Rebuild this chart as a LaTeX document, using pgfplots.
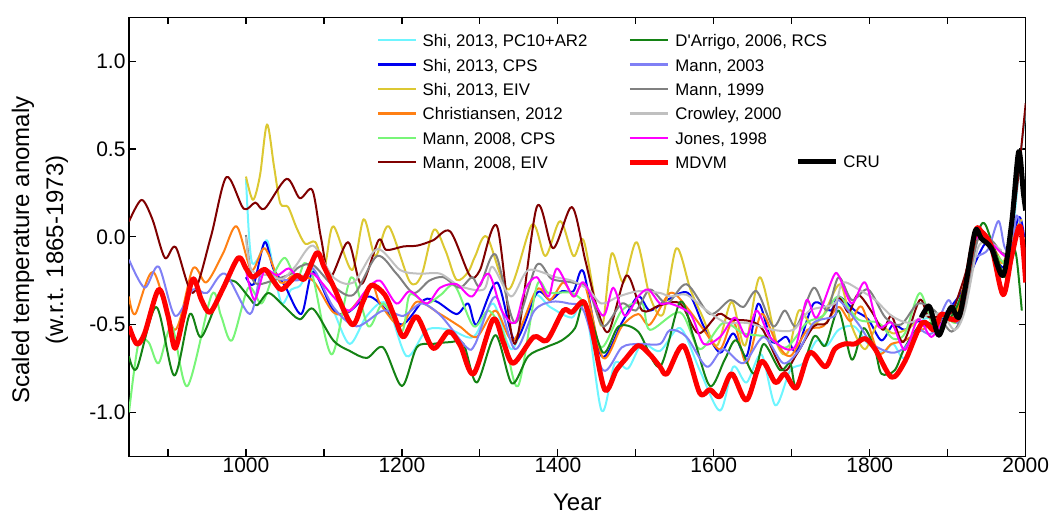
\documentclass[border=0pt]{standalone}
\usepackage{fontspec}
\setmainfont{Liberation Sans}
\usepackage{pgfplots}
\pgfplotsset{compat=1.18}
\definecolor{shiPC}{RGB}{110,245,255}
\definecolor{shiCPS}{RGB}{0,0,240}
\definecolor{shiEIV}{RGB}{220,200,50}
\definecolor{chrOrange}{RGB}{255,128,20}
\definecolor{mcps}{RGB}{120,245,120}
\definecolor{meiv}{RGB}{128,0,0}
\definecolor{darrigo}{RGB}{20,130,20}
\definecolor{mthree}{RGB}{128,128,245}
\definecolor{mnine}{RGB}{128,128,128}
\definecolor{crowley}{RGB}{192,192,192}
\definecolor{jones}{RGB}{255,0,255}
\definecolor{mdvm}{RGB}{255,0,0}
\pgfplotsset{
  base/.style={
    at={(129pt,61.7pt)}, anchor=south west,
    width=896.7pt, height=439pt, scale only axis,
    xmin=850, xmax=2000, ymin=-1.25, ymax=1.25,
    legend cell align=left,
    legend image code/.code={\draw[#1] (0pt,0pt) -- (38pt,0pt);},
  },
  lgd/.style={draw=none, fill=none, inner sep=0pt,
    font=\fontsize{16.8}{20}\selectfont,
    nodes={inner sep=2pt, text height=13pt, text depth=0pt},
    row sep=7.4pt,
    /tikz/every odd column/.append style={column sep=3pt},
    /tikz/every even column/.append style={column sep=38pt}},
}
\begin{document}
\begin{tikzpicture}[x=1pt,y=1pt]
\useasboundingbox (0,0) rectangle (1051,518);
\begin{axis}[base,
  axis line style={line width=1.2pt},
  tick style={line width=1.2pt, black},
  major tick length=7pt, minor tick length=7pt,
  tick align=inside,
  xtick={1000,1200,1400,1600,1800,2000},
  xticklabels={1000,1200,1400,1600,1800,2000},
  minor xtick={900,1100,1300,1500,1700,1900},
  ytick={-1,-0.5,0,0.5,1},
  yticklabels={-1.0,-0.5,0.0,0.5,1.0},
  ticklabel style={font=\fontsize{21}{25}\selectfont},
  xticklabel style={yshift=2pt},
  xlabel={Year},
  xlabel style={font=\fontsize{24}{28}\selectfont, at={(axis description cs:0.5,-0.106)}, anchor=center},
  ylabel={Scaled temperature anomaly\\(w.r.t. 1865-1973)},
  ylabel style={font=\fontsize{24}{34}\selectfont, align=center, at={(axis description cs:-0.0993,0.47)}, anchor=center},
  legend columns=2,
  legend style={lgd, at={(rel axis cs:0.2766,0.9677)}, anchor=north west},
  every axis plot/.append style={line width=2pt, line join=round, smooth, tension=0.5},
]
% Shi 2013 PC10+AR2
\addplot[shiPC, forget plot] coordinates {(1000,0.33)(1004,0.0)(1008,-0.15)(1016,-0.12)(1027,-0.02)(1036,-0.20)(1046,-0.38)(1058,-0.30)(1069,-0.28)(1086,-0.19)(1112,-0.42)(1133,-0.61)(1155,-0.45)(1180,-0.38)(1206,-0.68)(1232,-0.53)(1262,-0.53)(1292,-0.57)(1317,-0.38)(1341,-0.64)(1369,-0.34)(1390,-0.40)(1418,-0.46)(1435,-0.38)(1456,-0.99)(1473,-0.72)(1490,-0.75)(1508,-0.61)(1531,-0.65)(1557,-0.52)(1582,-0.76)(1608,-0.99)(1625,-0.74)(1642,-0.83)(1661,-0.67)(1679,-0.96)(1698,-0.76)(1715,-0.72)(1732,-0.59)(1745,-0.62)(1760,-0.53)(1780,-0.51)(1798,-0.61)(1817,-0.66)(1830,-0.61)(1845,-0.69)(1867,-0.48)(1885,-0.46)(1905,-0.42)(1920,-0.30)(1938,0.0)(1955,-0.03)(1972,-0.20)(1985,0.10)(1993,0.45)(2000,0.72)};
% Shi 2013 CPS
\addplot[shiCPS, forget plot] coordinates {(1000,-0.23)(1010,-0.27)(1024,-0.03)(1035,-0.18)(1050,-0.28)(1071,-0.44)(1086,-0.20)(1112,-0.42)(1131,-0.43)(1155,-0.34)(1172,-0.38)(1200,-0.50)(1228,-0.36)(1245,-0.37)(1270,-0.44)(1285,-0.38)(1296,-0.50)(1322,-0.26)(1345,-0.59)(1373,-0.32)(1390,-0.36)(1405,-0.31)(1420,-0.31)(1433,-0.20)(1456,-0.68)(1482,-0.49)(1503,-0.34)(1518,-0.42)(1540,-0.36)(1567,-0.32)(1587,-0.51)(1608,-0.66)(1625,-0.55)(1642,-0.68)(1657,-0.38)(1675,-0.60)(1693,-0.57)(1706,-0.65)(1728,-0.38)(1750,-0.42)(1760,-0.34)(1781,-0.42)(1798,-0.47)(1815,-0.59)(1830,-0.50)(1845,-0.53)(1862,-0.48)(1880,-0.52)(1900,-0.42)(1920,-0.30)(1937,-0.13)(1948,-0.04)(1956,-0.08)(1973,-0.17)(1991,0.11)(1998,0.0)};
% Shi 2013 EIV
\addplot[shiEIV, forget plot] coordinates {(1000,0.343)(1009,0.21)(1018,0.35)(1027,0.64)(1036,0.40)(1044,0.19)(1054,0.17)(1065,0.05)(1076,-0.04)(1089,-0.03)(1101,-0.16)(1112,0.06)(1136,-0.19)(1151,0.10)(1166,-0.11)(1183,0.06)(1210,-0.255)(1225,-0.22)(1241,0.04)(1256,-0.08)(1270,-0.245)(1285,-0.20)(1294,-0.11)(1309,0.0)(1337,-0.30)(1367,0.07)(1384,-0.11)(1403,0.09)(1420,-0.11)(1433,-0.02)(1450,-0.42)(1458,-0.49)(1469,-0.095)(1484,-0.26)(1501,-0.03)(1518,-0.34)(1535,-0.44)(1552,-0.065)(1570,-0.30)(1585,-0.45)(1604,-0.62)(1623,-0.37)(1640,-0.62)(1659,-0.23)(1681,-0.61)(1695,-0.66)(1709,-0.42)(1725,-0.50)(1740,-0.45)(1762,-0.27)(1777,-0.51)(1794,-0.64)(1810,-0.50)(1830,-0.55)(1850,-0.52)(1870,-0.45)(1890,-0.48)(1910,-0.45)(1925,-0.20)(1940,0.02)(1955,-0.05)(1970,-0.15)(1985,0.02)(1995,0.10)};
% Christiansen 2012
\addplot[chrOrange, forget plot] coordinates {(850,-0.34)(858,-0.44)(881,-0.20)(909,-0.53)(932,-0.18)(949,-0.26)(970,-0.10)(988,0.06)(1007,-0.19)(1024,-0.065)(1044,-0.26)(1061,-0.22)(1086,-0.25)(1112,-0.43)(1133,-0.42)(1161,-0.28)(1172,-0.38)(1198,-0.51)(1219,-0.37)(1249,-0.44)(1274,-0.51)(1296,-0.57)(1320,-0.42)(1343,-0.59)(1373,-0.30)(1390,-0.36)(1407,-0.26)(1420,-0.34)(1435,-0.28)(1458,-0.69)(1482,-0.51)(1503,-0.44)(1518,-0.50)(1544,-0.32)(1565,-0.40)(1587,-0.53)(1608,-0.64)(1625,-0.48)(1642,-0.72)(1661,-0.44)(1680,-0.60)(1698,-0.68)(1720,-0.53)(1740,-0.51)(1760,-0.40)(1775,-0.48)(1790,-0.40)(1811,-0.66)(1828,-0.61)(1845,-0.59)(1867,-0.53)(1885,-0.49)(1905,-0.47)(1920,-0.30)(1940,0.0)(1955,-0.04)(1970,-0.15)};
% Mann 2008 CPS
\addplot[mcps, forget plot] coordinates {(850,-1.0)(862,-0.61)(875,-0.60)(888,-0.72)(905,-0.51)(925,-0.85)(956,-0.33)(968,-0.45)(982,-0.59)(1003,-0.29)(1020,-0.38)(1035,-0.22)(1050,-0.12)(1065,-0.245)(1075,-0.15)(1086,-0.23)(1110,-0.67)(1135,-0.23)(1157,-0.51)(1176,-0.38)(1200,-0.54)(1210,-0.33)(1232,-0.38)(1250,-0.33)(1268,-0.28)(1292,-0.51)(1311,-0.42)(1330,-0.55)(1349,-0.85)(1373,-0.28)(1388,-0.32)(1418,-0.32)(1437,-0.40)(1456,-0.63)(1482,-0.42)(1508,-0.38)(1518,-0.53)(1557,-0.43)(1582,-0.64)(1612,-0.49)(1638,-0.55)(1668,-0.57)(1693,-0.63)(1719,-0.49)(1740,-0.45)(1760,-0.34)(1785,-0.47)(1811,-0.49)(1830,-0.58)(1845,-0.55)(1864,-0.32)(1880,-0.49)(1895,-0.45)(1914,-0.47)(1931,-0.04)(1943,0.02)(1956,-0.06)(1973,-0.15)(1985,-0.08)};
% Mann 2008 EIV
\addplot[meiv, forget plot] coordinates {(850,0.087)(866,0.21)(880,0.10)(896,-0.12)(910,-0.06)(932,-0.32)(955,0.0)(975,0.34)(997,0.16)(1012,0.195)(1024,0.16)(1052,0.33)(1069,0.22)(1085,0.267)(1096,0.0)(1108,-0.23)(1131,-0.03)(1148,-0.27)(1170,-0.02)(1180,-0.075)(1202,-0.055)(1220,-0.05)(1240,-0.02)(1262,0.03)(1287,-0.22)(1300,-0.19)(1322,0.06)(1345,-0.61)(1373,0.17)(1394,-0.065)(1418,0.17)(1435,-0.13)(1450,-0.40)(1465,-0.54)(1488,-0.22)(1508,-0.42)(1531,-0.39)(1557,-0.38)(1580,-0.55)(1606,-0.44)(1621,-0.47)(1646,-0.48)(1663,-0.53)(1689,-0.76)(1706,-0.67)(1728,-0.51)(1745,-0.49)(1760,-0.35)(1773,-0.43)(1785,-0.33)(1803,-0.43)(1817,-0.53)(1828,-0.45)(1843,-0.60)(1864,-0.36)(1875,-0.455)(1890,-0.45)(1905,-0.43)(1920,-0.25)(1940,0.03)(1958,-0.05)(1973,-0.2)(1988,0.25)(2000,0.76)};
% D'Arrigo 2006 RCS
\addplot[darrigo, forget plot] coordinates {(850,-0.68)(860,-0.75)(885,-0.40)(908,-0.79)(928,-0.44)(943,-0.57)(971,-0.28)(986,-0.255)(1003,-0.34)(1014,-0.39)(1029,-0.32)(1050,-0.40)(1069,-0.47)(1086,-0.41)(1112,-0.59)(1133,-0.65)(1155,-0.69)(1176,-0.63)(1200,-0.85)(1219,-0.63)(1240,-0.61)(1262,-0.60)(1279,-0.61)(1296,-0.83)(1320,-0.56)(1341,-0.835)(1362,-0.68)(1384,-0.63)(1405,-0.59)(1422,-0.52)(1435,-0.37)(1458,-0.66)(1478,-0.51)(1503,-0.54)(1531,-0.74)(1557,-0.37)(1574,-0.57)(1595,-0.85)(1614,-0.70)(1629,-0.59)(1651,-0.78)(1664,-0.61)(1685,-0.76)(1698,-0.72)(1706,-0.85)(1728,-0.57)(1743,-0.62)(1760,-0.42)(1777,-0.70)(1792,-0.52)(1807,-0.65)(1815,-0.78)(1832,-0.76)(1845,-0.63)(1867,-0.49)(1885,-0.50)(1905,-0.45)(1920,-0.30)(1943,0.07)(1956,-0.02)(1973,-0.23)(1982,-0.07)(1988,-0.11)(1995,-0.42)};
% Mann 2003
\addplot[mthree, forget plot] coordinates {(850,-0.13)(870,-0.29)(888,-0.17)(909,-0.45)(932,-0.30)(950,-0.32)(973,-0.21)(1005,-0.44)(1020,-0.20)(1040,-0.24)(1069,-0.245)(1086,-0.18)(1112,-0.40)(1142,-0.51)(1176,-0.42)(1202,-0.45)(1225,-0.38)(1250,-0.45)(1283,-0.63)(1294,-0.61)(1320,-0.34)(1345,-0.64)(1370,-0.42)(1392,-0.37)(1414,-0.38)(1433,-0.42)(1458,-0.76)(1482,-0.63)(1503,-0.61)(1531,-0.61)(1544,-0.53)(1565,-0.57)(1591,-0.74)(1612,-0.64)(1638,-0.72)(1664,-0.57)(1689,-0.72)(1710,-0.64)(1728,-0.49)(1755,-0.45)(1760,-0.36)(1786,-0.50)(1803,-0.61)(1828,-0.66)(1845,-0.63)(1862,-0.53)(1880,-0.55)(1901,-0.36)(1914,-0.49)(1930,-0.15)(1939,-0.11)(1952,-0.07)(1965,0.09)(1973,-0.06)(1982,-0.08)(1988,0.12)(1995,0.04)};
% Mann 1999
\addplot[mnine, forget plot] coordinates {(1000,0.01)(1007,-0.22)(1016,-0.27)(1040,-0.24)(1058,-0.21)(1069,-0.17)(1086,-0.16)(1112,-0.28)(1138,-0.33)(1168,-0.11)(1193,-0.21)(1215,-0.32)(1235,-0.25)(1253,-0.23)(1274,-0.29)(1290,-0.23)(1300,-0.28)(1320,-0.10)(1345,-0.49)(1373,-0.16)(1392,-0.24)(1418,-0.26)(1439,-0.30)(1458,-0.51)(1482,-0.38)(1500,-0.42)(1518,-0.30)(1540,-0.38)(1565,-0.27)(1595,-0.44)(1621,-0.36)(1638,-0.40)(1655,-0.31)(1676,-0.51)(1691,-0.42)(1706,-0.51)(1728,-0.29)(1745,-0.42)(1760,-0.23)(1777,-0.36)(1798,-0.30)(1820,-0.46)(1840,-0.50)(1862,-0.38)(1883,-0.42)(1905,-0.54)(1920,-0.42)(1939,-0.01)(1956,-0.02)(1969,-0.09)(1980,-0.10)};
% Crowley 2000
\addplot[crowley, forget plot] coordinates {(1000,0.0)(1007,-0.19)(1030,-0.22)(1047,-0.24)(1063,-0.17)(1086,-0.05)(1112,-0.23)(1138,-0.26)(1168,-0.07)(1198,-0.19)(1222,-0.21)(1249,-0.21)(1274,-0.28)(1305,-0.30)(1316,-0.17)(1340,-0.34)(1362,-0.19)(1397,-0.23)(1418,-0.25)(1439,-0.30)(1456,-0.38)(1478,-0.34)(1503,-0.31)(1531,-0.32)(1544,-0.34)(1565,-0.33)(1591,-0.42)(1616,-0.49)(1642,-0.49)(1676,-0.53)(1702,-0.53)(1723,-0.42)(1755,-0.38)(1765,-0.26)(1786,-0.30)(1807,-0.36)(1828,-0.45)(1850,-0.49)(1871,-0.45)(1892,-0.44)(1909,-0.53)(1922,-0.42)(1939,-0.06)(1956,-0.04)(1969,-0.08)};
% Jones 1998
\addplot[jones, forget plot] coordinates {(1000,-0.19)(1011,-0.36)(1024,-0.19)(1040,-0.22)(1055,-0.18)(1069,-0.24)(1086,-0.21)(1112,-0.34)(1133,-0.42)(1155,-0.30)(1172,-0.25)(1193,-0.38)(1210,-0.31)(1232,-0.38)(1249,-0.29)(1270,-0.27)(1290,-0.34)(1311,-0.21)(1328,-0.42)(1345,-0.49)(1358,-0.30)(1373,-0.23)(1388,-0.34)(1399,-0.18)(1420,-0.34)(1433,-0.26)(1458,-0.45)(1471,-0.29)(1486,-0.45)(1503,-0.34)(1516,-0.30)(1531,-0.38)(1544,-0.38)(1570,-0.44)(1587,-0.61)(1608,-0.57)(1627,-0.46)(1642,-0.57)(1655,-0.42)(1672,-0.57)(1693,-0.64)(1706,-0.61)(1719,-0.36)(1732,-0.46)(1753,-0.23)(1760,-0.22)(1777,-0.38)(1794,-0.26)(1811,-0.51)(1828,-0.49)(1845,-0.645)(1862,-0.47)(1879,-0.57)(1896,-0.47)(1915,-0.45)(1935,-0.02)(1956,-0.04)(1973,-0.11)(1982,-0.10)};
% MDVM
\addplot[mdvm, line width=5pt, forget plot] coordinates {(850,-0.51)(860,-0.61)(870,-0.55)(888,-0.30)(900,-0.45)(909,-0.635)(920,-0.45)(932,-0.24)(943,-0.36)(954,-0.43)(970,-0.30)(990,-0.12)(1000,-0.18)(1009,-0.23)(1024,-0.185)(1035,-0.25)(1046,-0.30)(1065,-0.22)(1075,-0.24)(1091,-0.09)(1100,-0.17)(1112,-0.28)(1136,-0.50)(1150,-0.37)(1161,-0.275)(1178,-0.33)(1190,-0.45)(1202,-0.57)(1219,-0.455)(1240,-0.635)(1260,-0.54)(1275,-0.62)(1292,-0.78)(1317,-0.47)(1330,-0.60)(1343,-0.72)(1369,-0.57)(1386,-0.59)(1407,-0.42)(1418,-0.43)(1433,-0.37)(1443,-0.51)(1460,-0.87)(1475,-0.76)(1486,-0.70)(1503,-0.62)(1518,-0.67)(1531,-0.74)(1540,-0.78)(1561,-0.62)(1582,-0.89)(1595,-0.87)(1608,-0.91)(1623,-0.78)(1642,-0.93)(1661,-0.71)(1679,-0.83)(1691,-0.78)(1706,-0.86)(1723,-0.66)(1743,-0.74)(1755,-0.64)(1768,-0.61)(1781,-0.61)(1794,-0.58)(1807,-0.64)(1828,-0.80)(1845,-0.71)(1867,-0.49)(1882,-0.53)(1892,-0.44)(1905,-0.47)(1916,-0.43)(1935,0.02)(1943,0.03)(1956,-0.055)(1971,-0.33)(1982,-0.11)(1993,0.06)(2000,-0.26)};
% legend entries (row-wise)
\addlegendimage{shiPC, line width=2.4pt}\addlegendentry{Shi, 2013, PC10+AR2}
\addlegendimage{darrigo, line width=2.4pt}\addlegendentry{D\textquotesingle Arrigo, 2006, RCS}
\addlegendimage{shiCPS, line width=2.4pt}\addlegendentry{Shi, 2013, CPS}
\addlegendimage{mthree, line width=2.4pt}\addlegendentry{Mann, 2003}
\addlegendimage{shiEIV, line width=2.4pt}\addlegendentry{Shi, 2013, EIV}
\addlegendimage{mnine, line width=2.4pt}\addlegendentry{Mann, 1999}
\addlegendimage{chrOrange, line width=2.4pt}\addlegendentry{Christiansen, 2012}
\addlegendimage{crowley, line width=2.4pt}\addlegendentry{Crowley, 2000}
\addlegendimage{mcps, line width=2.4pt}\addlegendentry{Mann, 2008, CPS}
\addlegendimage{jones, line width=2.4pt}\addlegendentry{Jones, 1998}
\addlegendimage{meiv, line width=2.4pt}\addlegendentry{Mann, 2008, EIV}
\addlegendimage{mdvm, line width=5pt}\addlegendentry{MDVM}
\end{axis}
\begin{axis}[base, hide axis,
  legend style={lgd, at={(rel axis cs:0.7430,0.692)}, anchor=north west},
]
\addplot[black, line width=5pt, line join=round, smooth, tension=0.5] coordinates {(1866,-0.46)(1871,-0.42)(1877,-0.40)(1888,-0.56)(1897,-0.47)(1905,-0.40)(1914,-0.46)(1922,-0.30)(1935,0.03)(1943,-0.01)(1956,-0.065)(1971,-0.22)(1982,0.08)(1991,0.485)(1997,0.25)(2000,0.15)};
\addlegendentry{CRU}
\end{axis}
\end{tikzpicture}
\end{document}
